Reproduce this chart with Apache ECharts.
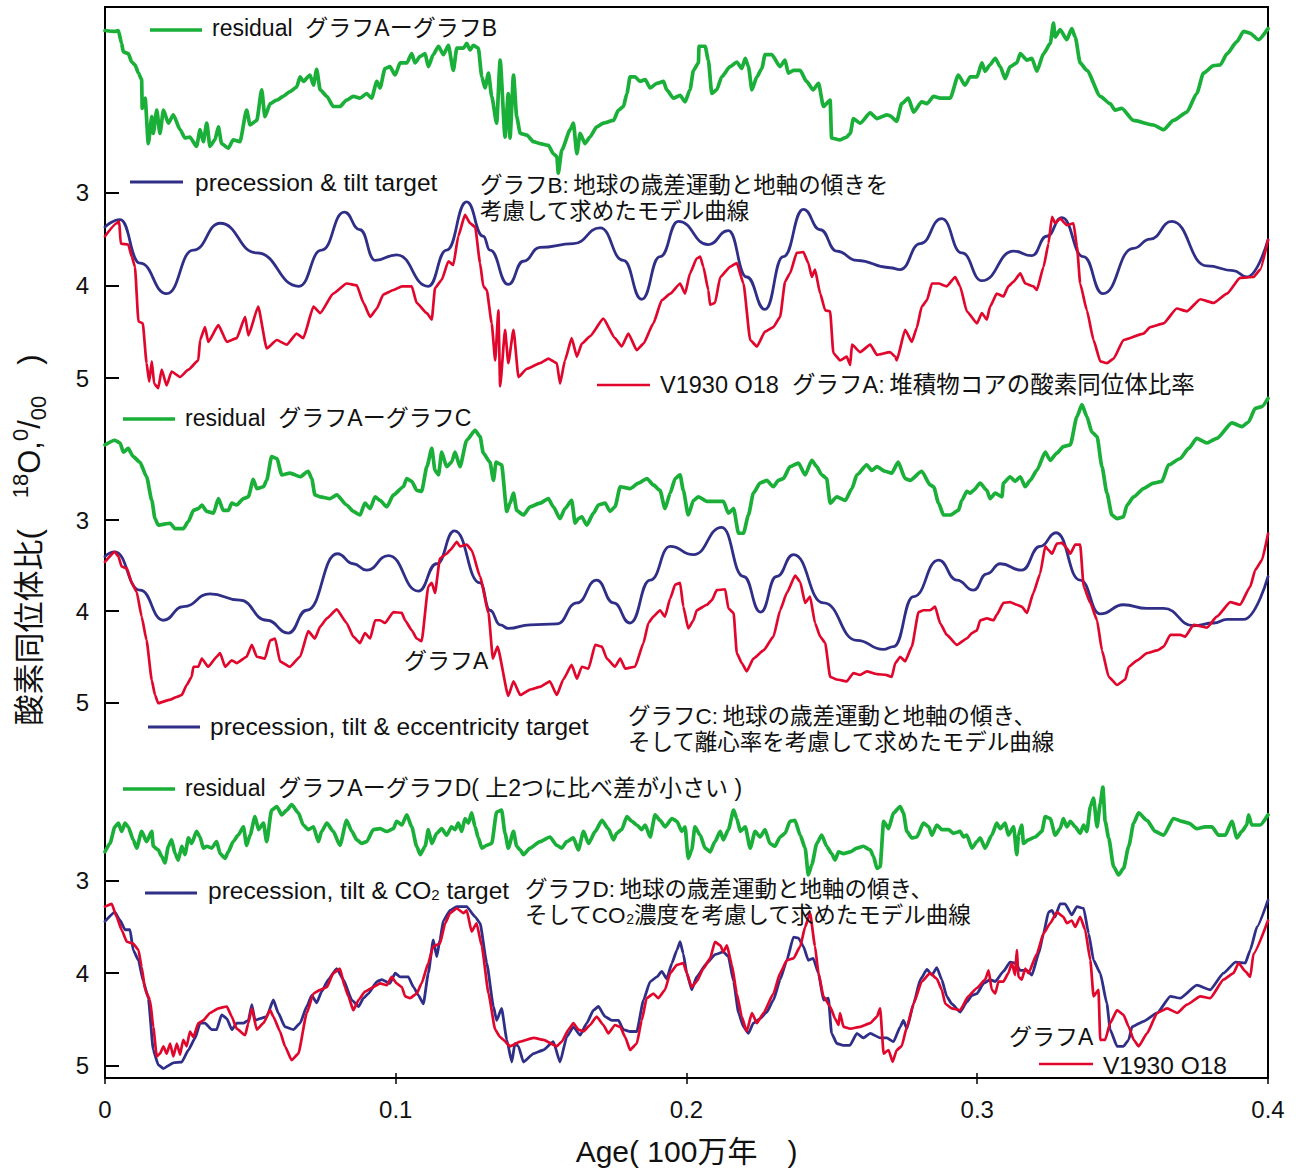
<!DOCTYPE html>
<html>
<head>
<meta charset="utf-8">
<title>V1930 δ18O と軌道要素モデル</title>
<script src="https://cdn.jsdelivr.net/npm/echarts@6/dist/echarts.min.js"></script>
<style>
  html, body { margin: 0; padding: 0; background: #fff; }
  #chart { width: 1301px; height: 1170px; }
</style>
</head>
<body>
<div id="chart"></div>
<script>
// Ages are in ka (thousand years); the x axis is shown in 100万年 (Myr).
// δ18O values in ‰; residuals in ‰ (A − model).

const X_TICKS = [0, 0.1, 0.2, 0.3, 0.4];
const Y_TICKS = [3, 4, 5];

// ---- Panel 1: precession & tilt ----
const P1_RESIDUAL = [[0,-0.75],[3.4,-0.74],[4.6,-0.75],[5.7,-0.61],[6.3,-0.52],[8.0,-0.50],[9.2,-0.41],[10.3,-0.38],[11.5,-0.29],[12.6,-0.22],[12.8,0.09],[13.8,-0.02],[14.9,0.47],[16.1,0.18],[16.6,0.36],[17.8,0.11],[18.9,0.36],[20.1,0.11],[21.8,0.25],[23.5,0.16],[25.8,0.32],[27.5,0.41],[29.2,0.40],[31.5,0.50],[32.7,0.32],[33.8,0.45],[35.0,0.25],[36.1,0.50],[37.8,0.43],[39.0,0.29],[40.1,0.47],[42.4,0.52],[44.1,0.43],[46.4,0.45],[48.7,0.11],[49.9,0.27],[52.2,0.22],[53.9,-0.11],[55.0,0.18],[56.8,0.04],[59.1,0.00],[61.3,-0.04],[63.6,-0.09],[65.9,-0.14],[67.1,-0.25],[68.2,-0.20],[70.5,-0.27],[71.7,-0.16],[72.8,-0.33],[74.0,-0.11],[76.3,-0.04],[78.5,0.07],[80.8,0.07],[83.1,0.00],[85.4,-0.04],[87.7,-0.02],[90.0,-0.07],[91.7,-0.02],[93.5,-0.20],[94.6,-0.13],[96.3,-0.34],[98.0,-0.36],[99.8,-0.27],[101.5,-0.40],[103.8,-0.40],[105.5,-0.50],[106.6,-0.40],[108.4,-0.47],[110.1,-0.50],[111.2,-0.36],[112.9,-0.49],[114.7,-0.58],[116.4,-0.49],[118.1,-0.59],[119.8,-0.32],[121.0,-0.56],[123.3,-0.56],[124.4,-0.61],[125.6,-0.54],[126.7,-0.59],[128.4,-0.56],[129.6,-0.25],[130.7,-0.13],[131.9,-0.29],[133.0,-0.04],[134.7,0.25],[135.9,-0.43],[137.6,0.40],[138.7,-0.07],[139.3,0.41],[140.5,-0.27],[141.6,0.18],[142.8,0.36],[145.1,0.38],[147.4,0.45],[149.6,0.47],[152.5,0.49],[154.2,0.58],[155.4,0.61],[155.9,0.79],[157.1,0.54],[160.0,0.32],[161.1,0.25],[162.3,0.58],[163.4,0.36],[165.1,0.47],[166.8,0.40],[169.1,0.29],[171.4,0.25],[174.9,0.22],[176.6,0.11],[178.3,0.07],[179.5,-0.07],[180.6,-0.25],[182.3,-0.25],[184.0,-0.20],[185.8,-0.22],[187.5,-0.13],[189.8,-0.18],[192.1,-0.20],[193.2,-0.11],[195.5,-0.02],[197.8,-0.05],[199.5,0.02],[201.2,-0.11],[202.4,-0.32],[204.1,-0.40],[204.3,-0.58],[206.4,-0.58],[207.5,-0.43],[208.7,-0.07],[210.4,-0.11],[212.1,-0.25],[215.0,-0.36],[217.3,-0.41],[219.0,-0.34],[220.2,-0.45],[221.3,-0.36],[222.5,-0.11],[224.2,-0.25],[225.9,-0.34],[227.0,-0.49],[229.3,-0.49],[232.2,-0.36],[233.9,-0.43],[235.0,-0.29],[236.8,-0.32],[239.1,-0.32],[241.3,-0.20],[243.6,-0.11],[245.4,-0.18],[247.1,0.07],[249.4,0.00],[249.9,0.41],[252.8,0.43],[255.1,0.40],[256.3,0.36],[257.4,0.20],[259.7,0.25],[263.2,0.14],[265.5,0.20],[268.9,0.16],[270.0,0.17],[272.3,0.23],[274.0,0.04],[276.3,-0.02],[278.1,0.13],[280.9,0.02],[282.7,0.04],[285.0,-0.04],[287.2,-0.02],[290.7,-0.02],[293.5,-0.27],[295.8,-0.16],[297.6,-0.25],[299.9,-0.25],[301.6,-0.40],[302.7,-0.31],[304.4,-0.38],[306.2,-0.45],[307.9,-0.36],[309.6,-0.23],[311.3,-0.36],[313.6,-0.40],[314.8,-0.50],[317.1,-0.43],[318.8,-0.45],[320.5,-0.31],[322.8,-0.50],[325.1,-0.61],[326.2,-0.83],[326.8,-0.68],[328.5,-0.76],[330.8,-0.65],[332.5,-0.77],[333.7,-0.68],[335.4,-0.40],[337.7,-0.32],[342.3,-0.04],[345.7,0.04],[347.4,0.11],[349.7,0.09],[353.7,0.22],[360.6,0.27],[364.1,0.32],[367.5,0.22],[372.1,0.13],[375.5,-0.07],[377.8,-0.29],[381.3,-0.37],[383.6,-0.38],[385.9,-0.50],[389.3,-0.63],[391.6,-0.74],[393.9,-0.72],[396.7,-0.65],[400,-0.77]];

const P1_TARGET = [[0,3.37],[5.2,3.29],[12.0,3.76],[21.2,4.09],[30.4,3.62],[39.6,3.33],[52.2,3.65],[66.7,4.01],[74.5,3.62],[82.3,3.21],[87.7,3.40],[92.9,3.73],[100.3,3.67],[111.2,4.01],[117.5,3.62],[124.4,3.10],[130.1,3.47],[132.4,3.62],[138.7,3.99],[143.9,3.74],[149.6,3.59],[161.1,3.55],[170.3,3.38],[178.3,3.73],[184.6,4.15],[190.9,3.69],[197.2,3.31],[207.5,3.56],[214.4,3.41],[220.7,3.91],[227.0,4.26],[233.3,3.69],[240.2,3.18],[246.0,3.40],[251.7,3.63],[258.6,3.73],[270.0,3.81],[273.5,3.83],[280.4,3.55],[287.8,3.28],[294.7,3.65],[301.6,3.95],[312.5,3.63],[318.8,3.68],[323.9,3.47],[329.1,3.27],[336.5,3.69],[343.2,4.09],[353.7,3.60],[359.5,3.50],[366.9,3.31],[379.0,3.79],[388.1,3.84],[392.7,3.91],[400,3.51]];

const P1_V1930 = [[0,3.47],[4.0,3.33],[4.9,3.31],[5.4,3.55],[8.0,3.56],[9.2,3.69],[10.3,3.80],[11.5,4.39],[13.0,4.41],[14.3,4.84],[15.2,5.04],[16.1,4.82],[16.9,5.06],[18.3,5.11],[19.5,4.91],[21.2,5.08],[22.9,4.93],[25.8,4.99],[28.7,4.91],[32.1,4.81],[32.7,4.59],[34.4,4.45],[35.5,4.61],[39.0,4.43],[41.9,4.61],[45.3,4.57],[48.2,4.34],[49.3,4.54],[52.7,4.23],[55.6,4.68],[59.1,4.59],[62.5,4.64],[65.9,4.52],[68.2,4.57],[71.7,4.23],[74.0,4.30],[78.5,4.09],[83.1,3.98],[86.6,4.00],[88.9,4.19],[91.2,4.34],[93.5,4.25],[95.7,4.10],[99.2,4.05],[102.1,4.01],[105.5,4.01],[107.2,4.19],[110.7,4.30],[112.4,4.37],[113.5,4.03],[115.8,3.94],[118.1,3.74],[119.8,3.78],[121.5,3.47],[123.8,3.24],[125.6,3.33],[127.3,3.37],[129.0,3.76],[130.1,4.01],[131.3,4.05],[133.0,4.41],[134.2,4.81],[135.3,4.27],[135.9,5.09],[137.6,4.48],[138.7,4.84],[140.5,4.48],[142.2,4.99],[145.1,4.90],[149.6,4.84],[152.5,4.79],[155.4,4.84],[156.5,5.06],[158.2,4.81],[160.5,4.57],[162.3,4.77],[164.0,4.63],[166.8,4.55],[171.4,4.36],[175.4,4.57],[177.7,4.66],[180.0,4.52],[182.9,4.70],[185.2,4.63],[188.6,4.41],[191.5,4.16],[194.4,4.09],[197.8,3.98],[199.5,4.09],[201.2,3.87],[203.5,3.71],[204.7,3.69],[205.8,3.80],[207.5,4.05],[208.1,4.21],[209.8,4.19],[211.6,3.91],[215.0,3.80],[217.3,3.76],[219.6,3.98],[221.9,4.59],[224.2,4.66],[227.0,4.50],[229.9,4.45],[232.2,4.34],[233.9,3.96],[235.6,3.87],[237.9,3.65],[240.2,3.64],[241.9,3.76],[243.1,3.91],[244.2,3.83],[246.0,4.09],[247.7,4.27],[249.4,4.28],[250.5,4.73],[252.8,4.81],[255.1,4.77],[256.3,4.86],[256.9,4.64],[259.7,4.72],[263.2,4.64],[265.5,4.75],[270.0,4.72],[271.8,4.77],[272.3,4.81],[275.2,4.48],[277.5,4.61],[279.2,4.46],[280.9,4.23],[282.7,4.16],[284.4,3.98],[286.7,3.98],[289.5,4.01],[292.4,3.91],[294.1,4.01],[296.4,4.28],[299.9,4.41],[301.6,4.30],[303.3,4.37],[304.4,4.23],[306.7,4.09],[309.0,4.12],[310.7,4.01],[312.5,3.96],[314.8,3.87],[316.5,3.98],[319.3,4.01],[320.5,4.05],[322.8,3.80],[324.5,3.55],[325.7,3.26],[326.8,3.33],[328.5,3.28],[330.8,3.35],[333.1,3.33],[334.3,3.58],[335.4,3.98],[337.7,4.27],[340.0,4.59],[342.3,4.82],[344.6,4.84],[346.9,4.79],[350.3,4.59],[357.2,4.52],[359.5,4.45],[364.1,4.41],[368.6,4.25],[372.1,4.28],[376.7,4.15],[381.3,4.19],[385.9,4.09],[390.4,3.92],[395.0,3.91],[397.3,3.83],[400,3.51]];

// ---- Panel 2: precession, tilt & eccentricity ----
const P2_RESIDUAL = [[0,-0.24],[3.4,-0.29],[5.2,-0.26],[6.3,-0.16],[8.0,-0.20],[9.7,-0.11],[12.0,-0.05],[14.3,0.11],[16.1,0.37],[17.2,0.57],[18.3,0.64],[22.4,0.62],[24.1,0.68],[26.9,0.68],[28.7,0.60],[30.4,0.48],[32.1,0.46],[33.3,0.42],[35.0,0.49],[37.3,0.51],[39.0,0.35],[40.7,0.48],[42.4,0.48],[43.6,0.40],[45.3,0.42],[47.6,0.35],[49.3,0.33],[51.0,0.14],[52.2,0.24],[54.5,0.22],[55.6,0.15],[57.3,-0.11],[59.1,-0.09],[60.8,0.09],[63.6,0.07],[67.1,0.11],[69.9,0.05],[71.1,0.13],[72.2,0.31],[74.0,0.33],[77.4,0.35],[79.7,0.31],[83.1,0.42],[85.4,0.49],[87.7,0.53],[89.4,0.40],[91.2,0.46],[92.9,0.33],[94.6,0.37],[96.9,0.44],[99.2,0.31],[102.6,0.22],[103.8,0.13],[105.5,0.16],[107.2,0.26],[108.9,0.27],[110.7,0.00],[112.4,-0.20],[113.5,0.04],[114.7,0.09],[115.8,-0.16],[117.5,0.00],[119.2,-0.05],[120.4,-0.16],[122.1,0.00],[124.4,-0.29],[127.3,-0.40],[129.0,-0.33],[130.1,-0.15],[132.4,-0.05],[133.6,0.15],[134.5,-0.05],[136.4,-0.02],[138.2,0.49],[139.3,0.40],[140.5,0.29],[141.6,0.48],[143.9,0.53],[146.2,0.44],[149.6,0.40],[152.5,0.35],[154.2,0.44],[156.5,0.57],[158.2,0.46],[160.5,0.37],[161.7,0.62],[162.8,0.57],[164.0,0.55],[165.7,0.64],[168.0,0.51],[169.7,0.42],[172.0,0.40],[173.7,0.49],[175.4,0.44],[177.2,0.22],[180.6,0.24],[183.5,0.18],[186.4,0.13],[188.6,0.20],[190.9,0.26],[192.6,0.46],[194.4,0.29],[196.1,0.13],[197.8,0.09],[198.9,0.26],[200.6,0.53],[202.4,0.37],[204.1,0.33],[207.0,0.38],[210.4,0.38],[212.7,0.38],[214.4,0.51],[216.2,0.46],[217.9,0.73],[219.6,0.73],[221.3,0.53],[223.0,0.29],[225.3,0.18],[227.6,0.15],[229.9,0.22],[231.6,0.15],[233.3,0.13],[235.6,0.00],[238.5,-0.04],[240.8,0.09],[243.1,-0.07],[244.8,0.00],[246.5,0.09],[248.2,0.13],[249.4,0.40],[251.7,0.33],[254.6,0.37],[256.9,0.24],[258.6,0.09],[262.0,-0.02],[263.7,0.04],[265.5,0.00],[268.3,0.05],[270.6,0.07],[272.8,-0.05],[275.2,0.13],[276.9,0.15],[280.9,0.05],[283.8,0.20],[285.0,0.22],[286.7,0.40],[288.4,0.53],[290.7,0.53],[293.5,0.48],[294.7,0.37],[296.4,0.27],[297.6,0.29],[298.7,0.26],[301.0,0.18],[303.3,0.26],[304.4,0.35],[306.2,0.29],[308.5,0.33],[309.0,0.18],[311.3,0.11],[313.0,0.16],[314.8,0.11],[316.5,0.22],[318.2,0.15],[320.5,0.04],[323.4,-0.16],[325.1,-0.07],[327.4,-0.15],[329.6,-0.22],[332.0,-0.24],[334.3,-0.55],[336.0,-0.68],[337.7,-0.55],[339.4,-0.38],[341.2,-0.33],[342.9,0.00],[344.6,0.29],[346.3,0.53],[348.1,0.57],[350.3,0.55],[351.5,0.42],[353.8,0.33],[357.2,0.24],[360.6,0.18],[363.5,0.16],[365.8,-0.02],[369.8,-0.09],[372.7,-0.20],[375.5,-0.31],[379.0,-0.26],[382.4,-0.31],[387.6,-0.48],[391.0,-0.44],[393.3,-0.49],[395.6,-0.64],[397.9,-0.66],[400,-0.75]];

const P2_TARGET = [[0,3.40],[3.4,3.35],[12.0,3.77],[20.1,4.10],[26.9,3.95],[36.1,3.81],[46.4,3.88],[55.6,4.10],[63.1,4.24],[69.4,3.99],[79.9,3.37],[85.4,3.48],[90.0,3.55],[97.5,3.39],[107.8,3.78],[114.1,3.48],[120.2,3.12],[129.0,3.69],[132.4,3.99],[135.9,4.15],[138.7,4.19],[146.2,4.15],[155.4,4.14],[162.3,3.91],[169.1,3.66],[174.9,3.91],[180.6,4.13],[187.5,3.66],[194.4,3.29],[202.4,3.38],[212.1,3.08],[219.6,3.62],[225.5,4.01],[231.0,3.62],[236.8,3.38],[247.1,3.91],[258.6,4.32],[267.7,4.42],[271.2,4.39],[278.1,3.84],[286.7,3.44],[293.0,3.66],[298.7,3.77],[303.3,3.59],[307.9,3.48],[315.3,3.55],[321.6,3.29],[327.1,3.14],[335.4,3.66],[342.3,4.03],[350.3,3.93],[358.3,3.97],[364.1,3.97],[374.4,4.16],[381.3,4.13],[385.9,4.09],[391.6,4.09],[400,3.62]];

const P2_V1930 = [[0,3.46],[3.4,3.35],[4.6,3.40],[5.7,3.51],[7.5,3.53],[9.2,3.69],[10.9,3.79],[12.6,4.06],[14.3,4.32],[16.1,4.76],[17.2,4.92],[18.3,5.01],[22.4,4.97],[24.7,4.94],[26.4,4.92],[28.1,4.81],[29.8,4.72],[30.4,4.61],[32.1,4.61],[33.3,4.52],[35.5,4.61],[38.4,4.50],[39.6,4.46],[41.3,4.61],[43.6,4.54],[45.3,4.57],[48.7,4.50],[50.5,4.37],[52.2,4.50],[55.0,4.52],[56.8,4.32],[58.5,4.30],[60.2,4.55],[63.6,4.61],[67.1,4.50],[69.9,4.22],[72.2,4.30],[74.0,4.17],[76.3,4.08],[79.7,3.98],[83.1,4.13],[85.4,4.28],[87.7,4.35],[89.4,4.24],[91.2,4.30],[92.9,4.10],[94.6,4.10],[96.3,4.13],[99.2,4.01],[102.1,4.02],[103.2,4.10],[105.5,4.21],[107.2,4.30],[108.9,4.33],[111.2,3.73],[112.4,3.69],[113.5,3.80],[115.2,3.42],[117.5,3.37],[118.7,3.33],[121.0,3.24],[122.1,3.29],[124.4,3.27],[126.1,3.33],[129.0,3.62],[131.9,4.02],[133.4,4.52],[135.0,4.39],[138.7,4.93],[140.5,4.77],[142.8,4.92],[146.2,4.86],[149.6,4.83],[153.0,4.77],[155.4,4.92],[157.6,4.75],[160.5,4.59],[162.3,4.74],[164.0,4.61],[166.3,4.63],[168.6,4.37],[170.9,4.39],[172.6,4.52],[175.4,4.61],[177.2,4.52],[178.9,4.63],[182.3,4.61],[185.2,4.35],[186.9,4.13],[188.6,4.06],[190.9,3.99],[192.6,4.06],[194.4,3.86],[196.1,3.71],[197.8,3.69],[198.9,3.95],[200.6,4.19],[202.4,4.10],[203.5,3.99],[207.0,3.93],[208.7,3.88],[210.4,3.77],[213.3,3.76],[214.4,3.97],[216.2,4.02],[217.3,4.46],[219.0,4.57],[220.7,4.66],[223.0,4.52],[226.5,4.43],[229.9,4.28],[232.2,3.99],[234.5,3.80],[237.4,3.61],[239.1,3.68],[240.8,3.91],[242.5,3.84],[244.2,4.13],[246.0,4.28],[247.7,4.35],[249.4,4.72],[251.7,4.75],[255.1,4.77],[257.4,4.68],[259.7,4.70],[262.0,4.66],[265.5,4.69],[268.5,4.70],[270.6,4.72],[271.8,4.57],[273.5,4.50],[275.2,4.55],[277.5,4.39],[279.8,4.01],[281.5,3.99],[283.8,3.99],[285.5,3.95],[287.2,4.13],[289.5,4.26],[293.0,4.37],[296.4,4.30],[298.2,4.24],[299.9,4.21],[301.0,4.10],[303.3,4.08],[305.6,4.10],[306.7,4.04],[309.0,3.91],[311.3,3.90],[313.6,3.93],[315.3,3.95],[317.1,4.02],[319.3,3.80],[321.6,3.59],[323.4,3.29],[324.5,3.33],[325.7,3.37],[327.4,3.26],[329.1,3.25],[330.8,3.31],[332.0,3.37],[333.7,3.27],[335.4,3.27],[336.6,3.73],[338.9,3.91],[341.2,4.10],[342.9,4.43],[345.2,4.72],[348.1,4.81],[350.9,4.75],[352.1,4.61],[355.0,4.54],[358.4,4.46],[361.9,4.43],[364.1,4.39],[366.4,4.26],[369.8,4.26],[371.5,4.28],[374.4,4.15],[379.0,4.18],[382.4,4.06],[387.0,3.90],[390.4,3.93],[393.9,3.73],[395.6,3.55],[397.9,3.44],[400,3.15]];

// ---- Panel 3: precession, tilt & CO2 ----
const P3_RESIDUAL = [[0,0.20],[1.7,0.11],[3.4,-0.07],[4.6,-0.11],[5.7,-0.02],[6.9,-0.11],[8.0,-0.07],[9.7,0.07],[10.9,0.16],[12.6,-0.02],[14.3,0.09],[16.1,-0.02],[16.6,0.14],[18.3,0.18],[19.5,0.25],[20.6,0.32],[21.8,0.14],[22.9,0.07],[24.1,0.22],[25.2,0.29],[26.4,0.14],[27.5,0.23],[28.7,0.05],[29.8,0.11],[31.5,-0.02],[32.7,0.04],[33.8,0.16],[35.0,0.14],[36.7,0.16],[38.4,0.09],[39.6,0.22],[41.3,0.27],[42.4,0.20],[44.1,0.09],[45.8,0.02],[47.6,-0.07],[48.7,0.13],[49.9,0.02],[51.6,-0.18],[52.8,-0.04],[54.5,-0.11],[55.6,0.09],[57.3,-0.25],[59.1,-0.29],[60.8,-0.20],[62.5,-0.25],[64.2,-0.31],[66.5,-0.22],[68.2,-0.09],[69.9,-0.04],[71.7,-0.07],[73.4,0.09],[74.5,-0.02],[76.3,-0.11],[78.5,-0.02],[80.8,0.13],[83.1,-0.14],[84.9,-0.02],[86.6,0.07],[88.3,0.11],[90.0,0.09],[92.3,-0.04],[94.6,-0.05],[96.9,-0.02],[99.2,-0.05],[100.3,-0.13],[102.1,-0.09],[103.8,-0.20],[105.5,-0.07],[107.2,0.14],[108.4,0.23],[110.1,0.14],[111.2,-0.04],[112.4,0.11],[114.1,0.00],[115.8,-0.05],[117.5,0.02],[119.2,-0.07],[120.4,-0.04],[121.5,-0.11],[122.7,-0.02],[123.8,-0.16],[125.0,-0.11],[126.1,-0.22],[127.3,-0.07],[128.4,0.05],[129.6,0.16],[131.3,0.13],[133.0,0.11],[134.7,-0.23],[136.4,-0.25],[137.6,0.00],[138.7,0.16],[140.5,-0.02],[141.6,0.14],[142.8,0.18],[143.9,0.23],[146.2,0.16],[149.6,0.09],[153.0,0.04],[155.4,0.13],[157.1,0.16],[158.8,0.09],[161.1,0.05],[162.8,0.18],[164.6,-0.02],[166.3,0.11],[168.6,-0.02],[170.9,-0.14],[173.1,-0.05],[174.9,0.07],[176.0,0.00],[177.7,-0.04],[179.5,-0.18],[181.2,-0.13],[182.9,-0.09],[184.6,-0.04],[185.8,-0.09],[187.5,0.04],[189.2,-0.20],[190.9,-0.14],[192.6,-0.07],[195.0,-0.16],[196.7,-0.13],[198.4,-0.02],[199.5,-0.07],[200.6,0.27],[201.8,0.18],[202.9,-0.07],[204.7,0.02],[206.4,0.16],[208.1,0.20],[209.8,0.09],[211.6,-0.02],[212.7,0.07],[214.4,-0.04],[216.2,-0.25],[217.3,-0.16],[218.5,-0.02],[220.2,-0.07],[221.9,0.16],[223.6,-0.02],[225.3,0.04],[227.0,-0.04],[228.7,0.11],[230.4,0.14],[232.2,0.04],[233.9,0.00],[235.6,-0.13],[237.3,-0.14],[239.1,0.02],[240.8,0.16],[241.9,0.45],[243.1,0.34],[244.8,0.11],[246.5,0.02],[248.2,0.14],[249.9,0.22],[251.1,0.29],[252.3,0.20],[254.0,0.22],[256.3,0.20],[258.6,0.16],[260.8,0.14],[263.2,0.18],[264.3,0.25],[265.5,0.38],[266.6,0.36],[267.8,-0.13],[269.5,-0.05],[271.2,-0.22],[273.5,-0.29],[274.6,-0.22],[275.8,-0.02],[277.5,0.05],[279.2,0.04],[281.5,-0.11],[283.3,-0.07],[284.4,0.02],[286.1,-0.09],[287.8,-0.04],[290.1,-0.04],[291.8,0.00],[294.1,-0.02],[295.3,0.04],[296.4,0.02],[298.2,0.16],[299.9,0.09],[301.0,0.05],[302.7,0.16],[305.0,0.02],[306.7,-0.11],[307.9,-0.05],[309.6,-0.11],[310.7,0.02],[312.5,-0.07],[313.6,0.23],[314.2,0.02],[315.3,-0.09],[315.9,0.11],[317.6,0.07],[319.9,0.04],[322.2,-0.02],[323.4,-0.18],[325.1,-0.16],[326.8,0.02],[328.5,-0.05],[329.6,-0.16],[330.8,-0.07],[332.0,-0.13],[333.7,-0.07],[335.4,0.00],[336.6,-0.09],[337.7,-0.02],[338.9,-0.29],[340.0,-0.38],[341.2,-0.07],[342.3,-0.32],[343.2,-0.50],[344.0,-0.13],[345.2,0.05],[346.9,0.36],[348.6,0.45],[350.3,0.38],[352.1,0.14],[353.8,-0.11],[355.5,-0.22],[358.4,-0.14],[361.2,-0.02],[364.1,0.02],[367.5,-0.16],[370.4,-0.13],[372.7,-0.11],[375.5,-0.05],[378.4,-0.07],[380.7,-0.07],[383.0,0.02],[385.3,0.02],[387.6,-0.13],[389.3,0.05],[391.0,-0.02],[392.7,-0.09],[393.3,-0.20],[394.4,-0.09],[397.3,-0.09],[400,-0.20]];

const P3_TARGET = [[0,3.44],[3.4,3.34],[5.2,3.43],[6.9,3.53],[8.6,3.53],[9.7,3.75],[11.5,3.86],[13.2,4.09],[14.9,4.27],[16.6,4.83],[18.3,4.99],[20.1,5.03],[23.5,4.97],[26.4,4.96],[28.7,4.83],[31.0,4.70],[32.7,4.54],[34.4,4.54],[36.7,4.61],[38.4,4.61],[40.1,4.45],[41.9,4.49],[43.6,4.61],[45.3,4.54],[47.6,4.54],[49.3,4.51],[50.5,4.34],[51.6,4.51],[53.3,4.49],[55.6,4.47],[57.9,4.29],[59.6,4.43],[61.9,4.58],[64.8,4.61],[67.1,4.54],[69.4,4.36],[71.1,4.24],[72.8,4.32],[74.5,4.20],[76.8,4.07],[79.7,3.95],[82.0,4.07],[84.9,4.29],[87.2,4.36],[88.9,4.27],[90.6,4.22],[93.5,4.09],[95.2,4.07],[98.0,4.11],[99.8,4.00],[101.5,4.04],[104.3,4.04],[106.1,4.15],[107.8,4.24],[109.5,4.33],[111.2,4.00],[112.9,3.64],[114.1,3.82],[115.2,3.64],[116.4,3.43],[118.7,3.32],[121.0,3.28],[124.4,3.28],[127.3,3.39],[129.0,3.46],[131.3,3.89],[133.6,4.36],[134.7,4.51],[136.4,4.38],[138.2,4.72],[139.9,4.96],[141.0,4.76],[142.2,4.79],[143.9,4.96],[147.4,4.87],[150.8,4.83],[154.2,4.74],[156.5,4.96],[158.8,4.69],[161.1,4.58],[163.4,4.67],[165.7,4.54],[168.0,4.40],[169.7,4.36],[172.0,4.47],[174.3,4.51],[176.6,4.51],[178.3,4.61],[180.6,4.63],[182.9,4.63],[185.2,4.29],[187.5,4.09],[189.8,4.04],[191.5,3.98],[193.2,4.06],[195.0,3.89],[196.7,3.75],[197.8,3.66],[198.9,3.79],[200.1,4.00],[201.8,4.18],[203.5,4.04],[207.0,3.89],[209.8,3.80],[212.7,3.77],[214.4,3.82],[216.2,4.09],[217.9,4.43],[219.6,4.58],[221.3,4.65],[223.0,4.54],[225.3,4.49],[227.6,4.42],[229.9,4.29],[232.2,4.07],[234.5,3.86],[236.8,3.61],[238.5,3.62],[240.2,3.71],[241.9,3.86],[243.6,3.84],[245.4,4.00],[247.1,4.29],[248.8,4.27],[249.9,4.65],[251.7,4.76],[253.9,4.78],[256.2,4.78],[258.6,4.65],[260.8,4.70],[263.2,4.65],[266.6,4.70],[268.9,4.70],[271.2,4.74],[273.5,4.58],[274.6,4.51],[275.8,4.60],[278.1,4.33],[280.4,4.07],[282.7,3.96],[284.4,4.02],[286.1,3.94],[287.8,4.07],[289.5,4.25],[291.2,4.33],[294.1,4.42],[296.4,4.31],[298.2,4.24],[299.9,4.22],[302.2,4.11],[304.4,4.07],[306.2,4.09],[309.0,3.98],[311.3,3.88],[313.0,3.89],[314.8,3.97],[317.1,3.97],[318.8,4.02],[321.1,3.79],[322.8,3.57],[324.5,3.34],[325.7,3.32],[326.8,3.39],[328.5,3.25],[330.2,3.25],[332.5,3.37],[334.3,3.28],[336.6,3.30],[338.3,3.57],[340.0,3.86],[342.3,4.00],[344.6,4.33],[345.7,4.61],[348.1,4.79],[350.3,4.79],[352.1,4.72],[353.2,4.58],[357.2,4.52],[361.9,4.43],[366.4,4.25],[369.8,4.27],[375.5,4.13],[380.1,4.18],[384.7,4.00],[388.8,3.88],[392.2,3.89],[393.9,3.75],[396.2,3.50],[400,3.21]];

const P3_V1930 = [[0,3.28],[2.3,3.25],[4.0,3.39],[5.7,3.53],[7.5,3.66],[9.7,3.68],[11.5,3.75],[12.6,3.93],[13.8,4.18],[15.5,4.29],[16.6,4.58],[17.8,4.90],[18.9,4.87],[20.1,4.79],[21.2,4.87],[22.4,4.76],[23.5,4.90],[24.7,4.76],[25.8,4.88],[26.9,4.72],[28.1,4.79],[29.2,4.63],[30.4,4.69],[32.1,4.54],[33.8,4.51],[36.1,4.43],[39.0,4.38],[41.9,4.36],[43.6,4.47],[45.3,4.60],[48.2,4.67],[49.3,4.54],[50.5,4.38],[52.2,4.61],[54.5,4.54],[56.8,4.40],[57.9,4.47],[60.2,4.63],[61.9,4.79],[64.2,4.94],[66.5,4.87],[69.4,4.43],[71.7,4.22],[74.0,4.18],[76.3,4.15],[78.5,4.00],[80.8,3.95],[82.5,4.15],[83.7,4.25],[85.4,4.40],[87.2,4.29],[89.4,4.20],[92.3,4.15],[94.6,4.11],[96.9,4.13],[98.6,4.04],[100.3,4.11],[102.1,4.15],[103.2,4.25],[104.9,4.27],[107.2,4.22],[108.9,4.11],[111.2,3.89],[112.9,3.71],[115.2,3.68],[117.0,3.46],[118.7,3.35],[121.0,3.30],[123.3,3.35],[124.4,3.32],[126.1,3.55],[127.8,3.46],[129.6,3.71],[131.9,4.22],[134.2,4.61],[135.9,4.69],[137.0,4.72],[139.3,4.79],[142.8,4.74],[147.4,4.70],[150.8,4.72],[155.4,4.79],[157.1,4.74],[159.4,4.61],[161.1,4.54],[162.8,4.61],[164.6,4.63],[166.8,4.56],[169.1,4.47],[171.4,4.56],[173.1,4.65],[175.4,4.56],[177.2,4.58],[178.9,4.69],[180.6,4.83],[182.9,4.76],[184.6,4.51],[186.3,4.27],[188.6,4.22],[190.3,4.27],[192.6,4.18],[194.4,4.00],[196.7,3.91],[198.9,3.89],[200.1,4.00],[201.8,4.15],[203.5,4.09],[205.8,3.95],[208.1,3.84],[209.8,3.66],[211.6,3.70],[212.7,3.77],[213.9,3.70],[215.6,3.91],[217.3,4.22],[219.0,4.47],[220.7,4.63],[222.5,4.43],[224.2,4.54],[226.5,4.43],[229.9,4.22],[232.2,4.00],[234.5,3.86],[236.8,3.84],[239.1,3.71],[240.8,3.50],[242.5,3.35],[244.2,3.71],[245.4,4.00],[247.1,4.25],[249.4,4.36],[251.1,4.49],[252.3,4.56],[252.8,4.43],[254.0,4.58],[256.3,4.60],[259.7,4.58],[263.2,4.54],[265.5,4.47],[266.6,4.38],[267.8,4.87],[269.5,4.83],[270.9,4.96],[272.3,4.83],[274.0,4.79],[275.8,4.58],[278.1,4.33],[280.9,4.09],[283.8,4.00],[286.1,4.06],[287.8,4.18],[289.0,4.33],[291.2,4.38],[294.1,4.40],[296.9,4.25],[299.9,4.16],[302.7,4.07],[303.9,3.97],[305.0,4.18],[306.2,4.22],[307.3,4.09],[309.0,4.09],[310.7,4.00],[311.9,3.89],[313.0,4.02],[313.6,3.75],[314.2,4.04],[315.3,4.07],[316.5,3.95],[317.6,4.00],[320.5,3.79],[322.8,3.57],[325.1,3.46],[327.4,3.34],[329.6,3.39],[330.8,3.46],[332.5,3.43],[333.7,3.50],[335.4,3.39],[337.1,3.53],[338.9,3.86],[340.0,4.25],[341.7,4.18],[342.3,4.72],[344.0,4.72],[345.7,4.54],[348.1,4.40],[350.3,4.45],[352.1,4.58],[353.8,4.72],[355.5,4.79],[358.4,4.65],[361.9,4.43],[365.3,4.38],[368.8,4.43],[372.1,4.34],[376.7,4.25],[380.1,4.27],[384.7,4.07],[388.1,4.00],[389.9,3.89],[392.2,3.98],[393.9,4.04],[395.0,3.79],[400,3.43]];

// ---- styling ----
const GREEN = '#1aaf38';
const NAVY = '#302f88';
const RED = '#e1062c';
const INK = '#111111';
const FONT = "'Liberation Sans', Arial, 'Noto Sans CJK JP', sans-serif";

const PLOT_LEFT = 105, PLOT_RIGHT = 1268, PLOT_TOP = 7, PLOT_BOTTOM = 1078;
const CHART_W = 1301, CHART_H = 1170;

// Vertical placement of each strip: pixel rows of the 3‰ and 5‰ ticks,
// and the zero line of each residual strip.
const STRIPS = [
  { residZero: 100.0, residPx: 92.67, y3: 192.7, y5: 378.0, min: 2.0, max: 5.6 },
  { residZero: 466.7, residPx: 91.17, y3: 520.0, y5: 702.3, min: 2.0, max: 5.6 },
  { residZero: 833.3, residPx: 92.5,  y3: 880.7, y5: 1065.7, min: 2.5, max: 5.15 }
];

function gridBox(top, bottom) {
  return { left: PLOT_LEFT, right: CHART_W - PLOT_RIGHT, top: top, height: bottom - top,
           containLabel: false, outerBoundsMode: 'none' };
}

const grids = [
  Object.assign(gridBox(PLOT_TOP, PLOT_BOTTOM), { show: true, borderColor: '#000', borderWidth: 2 })
];
STRIPS.forEach(s => {
  grids.push(gridBox(s.residZero - s.residPx, s.residZero + s.residPx));
  const ppu = (s.y5 - s.y3) / 2;
  grids.push(gridBox(s.y3 - (3 - s.min) * ppu, s.y3 + (s.max - 3) * ppu));
});

const hiddenX = i => ({ type: 'value', gridIndex: i, min: 0, max: 0.4, show: false });
const xAxes = [
  {
    type: 'value', gridIndex: 0, min: 0, max: 0.4, interval: 0.1, position: 'bottom',
    axisLine: { show: false },
    axisTick: { show: true, length: 6, lineStyle: { color: '#000', width: 1.5 } },
    axisLabel: { margin: 19, fontSize: 24, color: INK, fontFamily: FONT,
                 formatter: v => X_TICKS.includes(+v.toFixed(1)) ? String(+v.toFixed(1)) : '' },
    splitLine: { show: false },
    name: 'Age( 100万年\u2003)', nameLocation: 'middle', nameGap: 58,
    nameTextStyle: { fontSize: 30, color: INK, fontFamily: FONT }
  }
];
for (let i = 1; i <= 6; i++) xAxes.push(hiddenX(i));
// short inward ticks on the bottom edge
xAxes.push({
  type: 'value', gridIndex: 0, min: 0, max: 0.4, interval: 0.1, position: 'bottom',
  axisLine: { show: false }, axisLabel: { show: false }, splitLine: { show: false },
  axisTick: { show: true, inside: true, length: 5, lineStyle: { color: '#000', width: 1.5 } }
});

const yAxes = [{ type: 'value', gridIndex: 0, min: 0, max: 1, show: false }];
STRIPS.forEach((s, k) => {
  yAxes.push({ type: 'value', gridIndex: 1 + 2 * k, inverse: true, min: -1, max: 1, show: false });
  yAxes.push({
    type: 'value', gridIndex: 2 + 2 * k, inverse: true, min: s.min, max: s.max,
    axisLine: { show: false },
    axisTick: { show: true, inside: true, length: 14, customValues: Y_TICKS,
                lineStyle: { color: '#000', width: 2 } },
    axisLabel: { show: true, customValues: Y_TICKS, margin: 16, fontSize: 24,
                 color: INK, fontFamily: FONT, formatter: v => String(v) },
    splitLine: { show: false }
  });
});

function line(name, data, axisIdx, color, width, smooth) {
  return {
    type: 'line', name: name, xAxisIndex: axisIdx, yAxisIndex: axisIdx,
    data: data.map(p => [p[0] / 1000, p[1]]),
    symbol: 'none', showSymbol: false, silent: true, animation: false,
    smooth: smooth, smoothMonotone: 'x',
    lineStyle: { color: color, width: width, join: 'round', cap: 'round' },
    itemStyle: { color: color }
  };
}

const series = [
  line('residual グラフAーグラフB', P1_RESIDUAL, 1, GREEN, 3.7, 0.2),
  line('precession & tilt target', P1_TARGET, 2, NAVY, 2.8, 0.5),
  line('V1930 O18', P1_V1930, 2, RED, 2.7, 0.15),
  line('residual グラフAーグラフC', P2_RESIDUAL, 3, GREEN, 3.7, 0.2),
  line('precession, tilt & eccentricity target', P2_TARGET, 4, NAVY, 2.8, 0.5),
  line('V1930 O18 ', P2_V1930, 4, RED, 2.7, 0.15),
  line('residual グラフAーグラフD', P3_RESIDUAL, 5, GREEN, 3.7, 0.2),
  line('precession, tilt & CO2 target', P3_TARGET, 6, NAVY, 2.8, 0.15),
  line('V1930 O18  ', P3_V1930, 6, RED, 2.7, 0.15)
];

// ---- keys and notes drawn over the plot ----
const LATIN = 24.5;   // legend lines written mostly in Latin letters
const KANJI = 22.5;   // Japanese explanatory lines
const MIXED = 23;

function keyLine(x1, x2, y, color, width) {
  return { type: 'line', silent: true, z: 100,
           shape: { x1: x1, y1: y, x2: x2, y2: y },
           style: { stroke: color, lineWidth: width } };
}
function note(x, y, text, size, rich) {
  return { type: 'text', silent: true, z: 100, x: x, y: y,
           style: { text: text, fill: INK, fontSize: size, fontFamily: FONT,
                    align: 'left', verticalAlign: 'middle', rich: rich } };
}
const subTwo = size => ({ s: { fontSize: Math.round(size * 0.62), fontFamily: FONT, fill: INK,
                               verticalAlign: 'bottom', padding: [7, 0, 0, 0] } });
const COLON = ':\u2009';

const graphics = [
  keyLine(150, 202, 30, GREEN, 3.7),
  note(212, 28, 'residual  グラフAーグラフB', MIXED),
  keyLine(130, 183, 182, NAVY, 2.8),
  note(195, 182, 'precession & tilt target', LATIN),
  note(480, 185, 'グラフB' + COLON + '地球の歳差運動と地軸の傾きを', KANJI),
  note(480, 211, '考慮して求めたモデル曲線', KANJI),
  keyLine(597, 650, 385, RED, 2.7),
  note(660, 385, 'V1930 O18  グラフA' + COLON + '堆積物コアの酸素同位体比率', 23.5),

  keyLine(123, 175, 419, GREEN, 3.7),
  note(185, 418, 'residual  グラフAーグラフC', MIXED),
  note(404, 661, 'グラフA', MIXED),
  keyLine(148, 200, 727, NAVY, 2.8),
  note(210, 726, 'precession, tilt & eccentricity target', LATIN),
  note(628, 716, 'グラフC' + COLON + '地球の歳差運動と地軸の傾き、', KANJI),
  note(628, 742, 'そして離心率を考慮して求めたモデル曲線', KANJI),

  keyLine(123, 175, 789, GREEN, 3.7),
  note(185, 788, 'residual  グラフAーグラフD( 上2つに比べ差が小さい )', MIXED),
  keyLine(145, 197, 893, NAVY, 2.8),
  note(208, 890, 'precession, tilt & CO{s|2} target', LATIN, subTwo(LATIN)),
  note(525, 889, 'グラフD' + COLON + '地球の歳差運動と地軸の傾き、', KANJI),
  note(525, 915, 'そしてCO{s|2}濃度を考慮して求めたモデル曲線', KANJI, subTwo(KANJI)),
  note(1009, 1037, 'グラフA', MIXED),
  keyLine(1039, 1093, 1064, RED, 2.7),
  note(1103, 1065, 'V1930 O18', LATIN),

  // vertical axis title
  { type: 'text', silent: true, z: 100, x: 29, y: 540, rotation: Math.PI / 2,
    style: {
      text: '酸素同位体比(\u3000{sup|18}O,{sup|0}/{sub|00}\u3000)',
      fill: INK, fontSize: 31, fontFamily: FONT, align: 'center', verticalAlign: 'middle',
      lineHeight: 40,
      rich: {
        sup: { fontSize: 22, fontFamily: FONT, fill: INK, verticalAlign: 'top', lineHeight: 40 },
        sub: { fontSize: 22, fontFamily: FONT, fill: INK, verticalAlign: 'bottom', lineHeight: 40 }
      }
    } }
];

const chart = echarts.init(document.getElementById('chart'), null,
                           { renderer: 'svg', width: CHART_W, height: CHART_H });
chart.setOption({
  backgroundColor: '#ffffff',
  animation: false,
  grid: grids,
  xAxis: xAxes,
  yAxis: yAxes,
  series: series,
  graphic: graphics
});
</script>
</body>
</html>
